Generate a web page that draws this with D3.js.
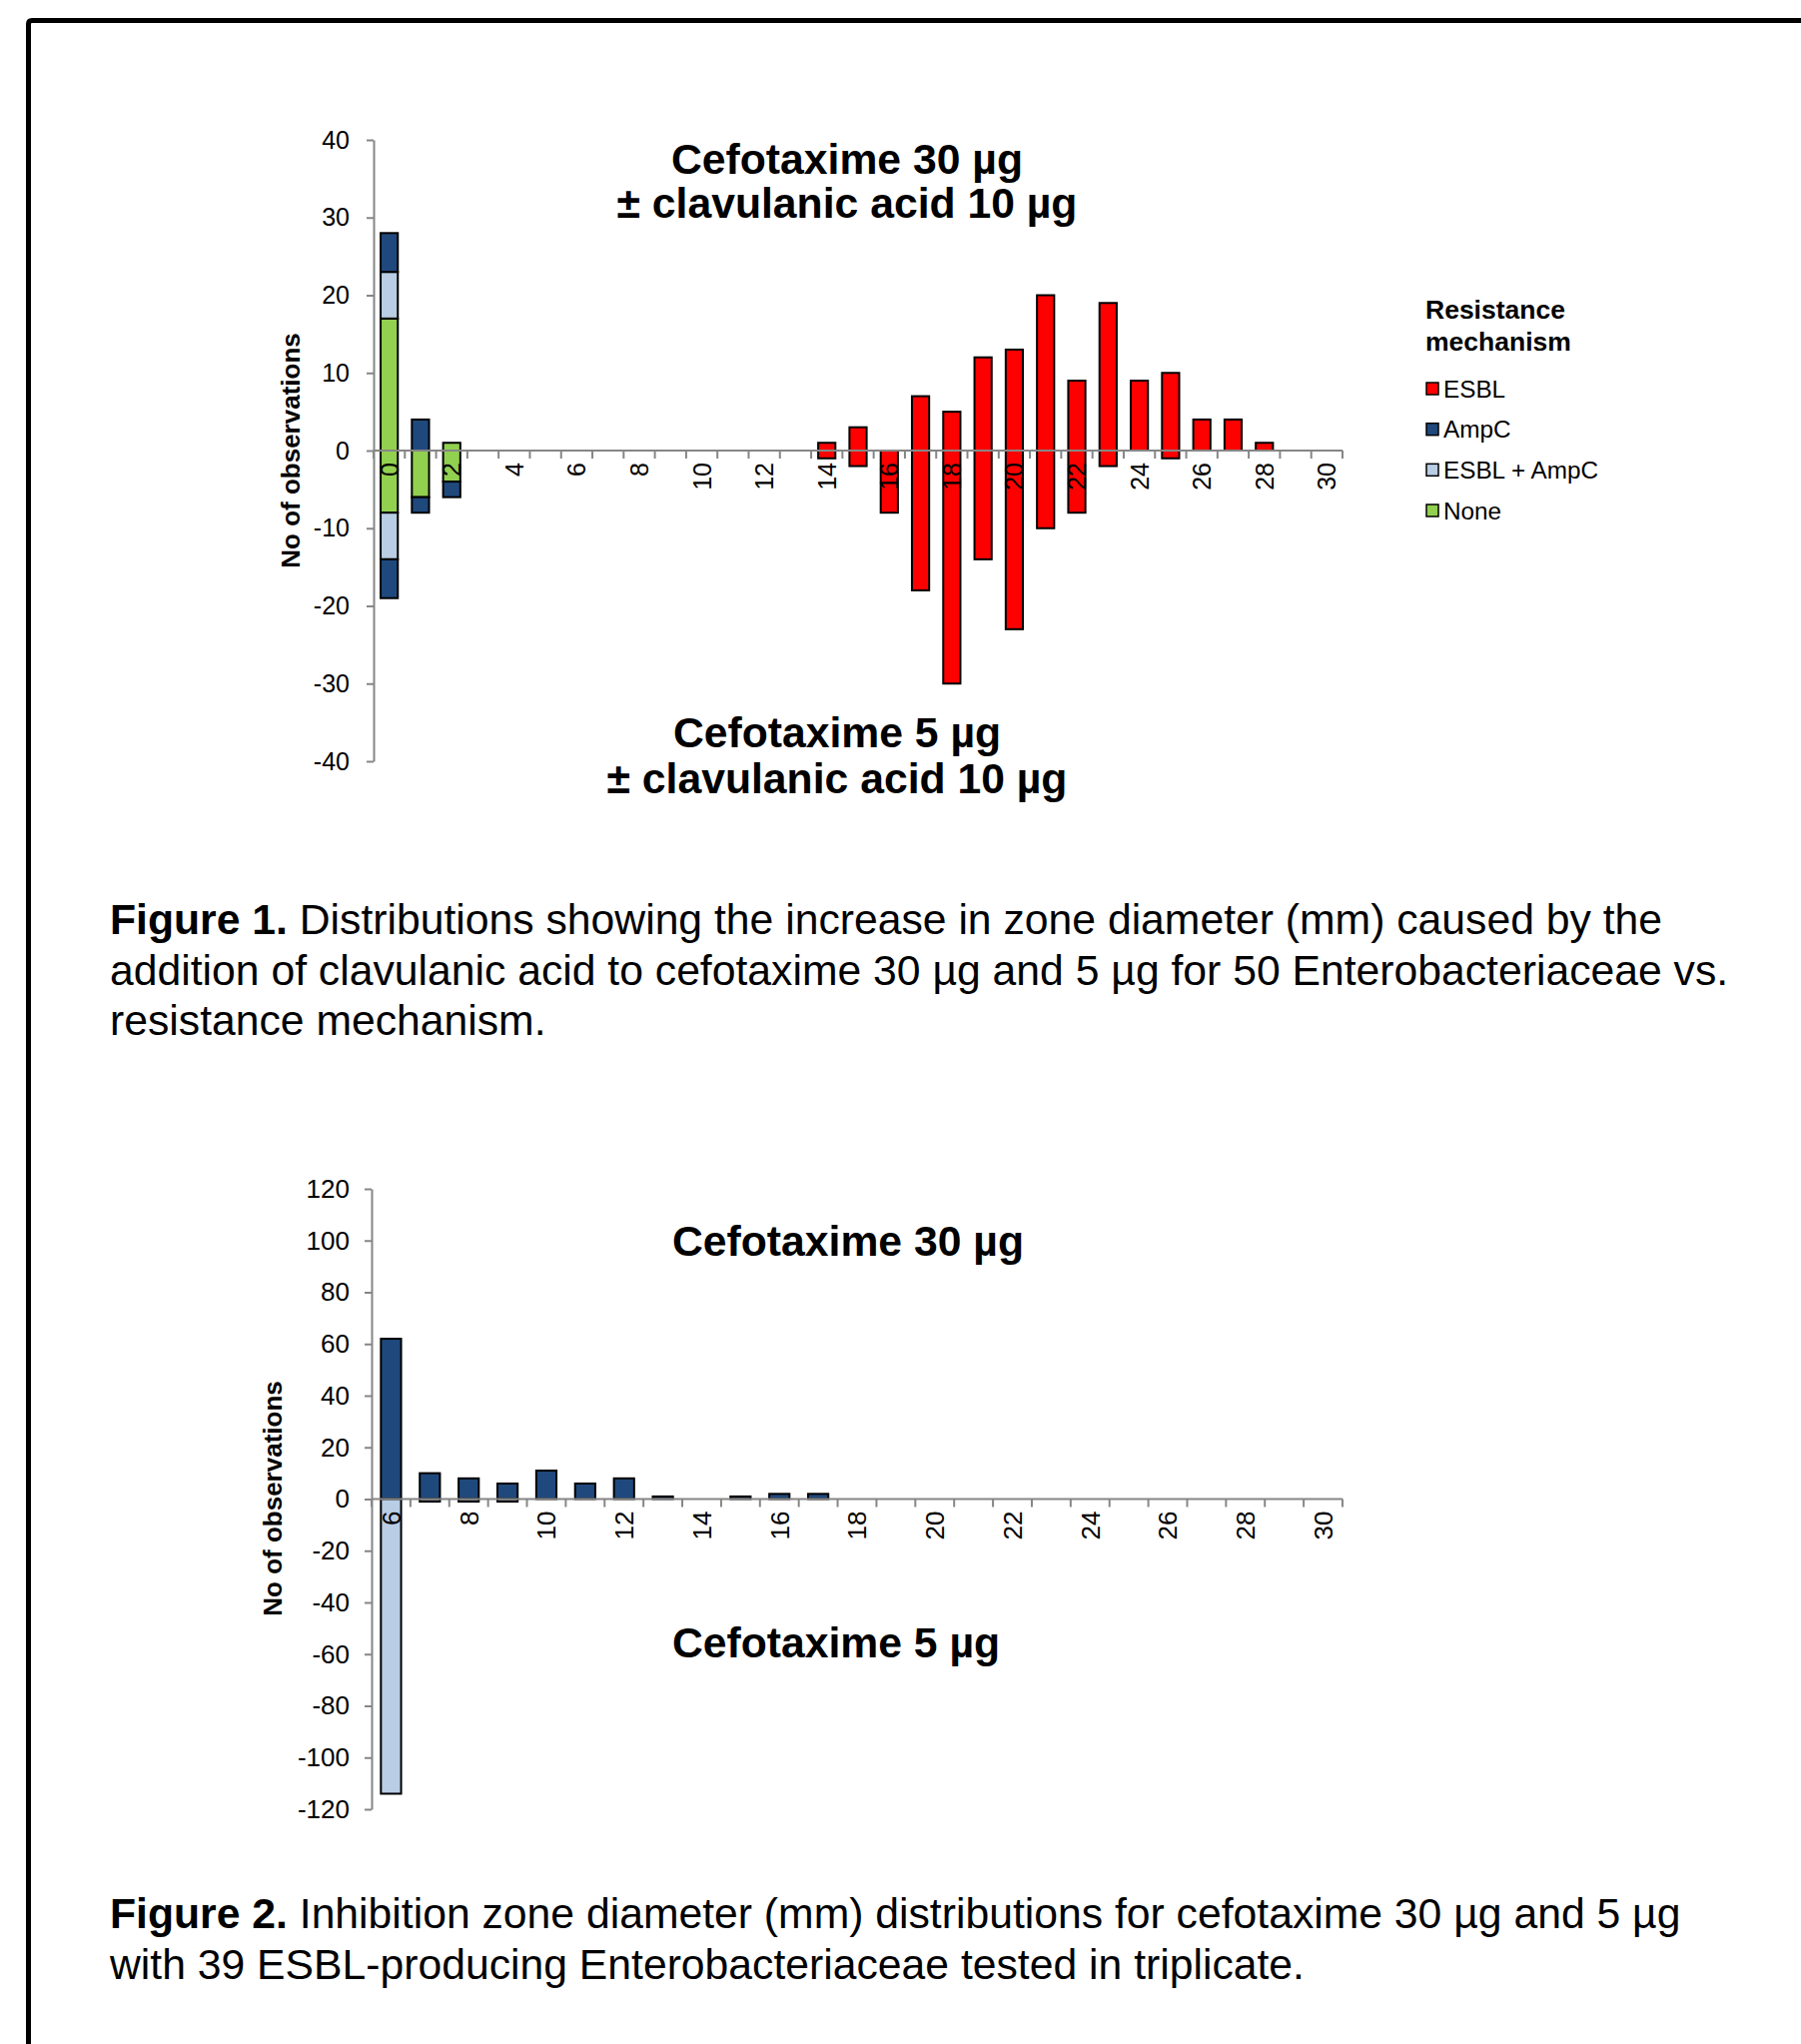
<!DOCTYPE html>
<html>
<head>
<meta charset="utf-8">
<script src="https://cdn.jsdelivr.net/npm/d3@7"></script>
<style>
body{margin:0;background:#fff;}
svg text{font-family:"Liberation Sans",Arial,sans-serif;fill:#000;}
</style>
</head>
<body>
<svg id="page" width="1803" height="2046"></svg>
<script>
// ---- Figure 1 data: increase in zone diameter (mm), counts per mechanism ----
const fig1Cats = [0,1,2,3,4,5,6,7,8,9,10,11,12,13,14,15,16,17,18,19,20,21,22,23,24,25,26,27,28,29,30];
const fig1TickLabels = [0,2,4,6,8,10,12,14,16,18,20,22,24,26,28,30];
const fig1YTicks = [-40,-30,-20,-10,0,10,20,30,40];

// cefotaxime 30 ug (drawn above the axis)
const esbl30     = [0,0,0,0,0,0,0,0,0,0,0,0,0,0,1,3,0,7,5,12,13,20,9,19,9,10,4,4,1,0,0];
const ampc30     = [5,4,0,0,0,0,0,0,0,0,0,0,0,0,0,0,0,0,0,0,0,0,0,0,0,0,0,0,0,0,0];
const esblAmpc30 = [6,0,0,0,0,0,0,0,0,0,0,0,0,0,0,0,0,0,0,0,0,0,0,0,0,0,0,0,0,0,0];
const none30     = [17,0,1,0,0,0,0,0,0,0,0,0,0,0,0,0,0,0,0,0,0,0,0,0,0,0,0,0,0,0,0];

// cefotaxime 5 ug (drawn below the axis)
const esbl5      = [0,0,0,0,0,0,0,0,0,0,0,0,0,0,1,2,8,18,30,14,23,10,8,2,0,1,0,0,0,0,0];
const ampc5      = [5,2,2,0,0,0,0,0,0,0,0,0,0,0,0,0,0,0,0,0,0,0,0,0,0,0,0,0,0,0,0];
const esblAmpc5  = [6,0,0,0,0,0,0,0,0,0,0,0,0,0,0,0,0,0,0,0,0,0,0,0,0,0,0,0,0,0,0];
const none5      = [8,6,4,0,0,0,0,0,0,0,0,0,0,0,0,0,0,0,0,0,0,0,0,0,0,0,0,0,0,0,0];

const mechanisms = ["ESBL","AmpC","ESBL + AmpC","None"];
const mechColors = ["#ff0000","#1f497d","#b9cde5","#92d050"];

// ---- Figure 2 data: inhibition zone diameter (mm) ----
const fig2Cats = [6,7,8,9,10,11,12,13,14,15,16,17,18,19,20,21,22,23,24,25,26,27,28,29,30];
const fig2TickLabels = [6,8,10,12,14,16,18,20,22,24,26,28,30];
const fig2YTicks = [-120,-100,-80,-60,-40,-20,0,20,40,60,80,100,120];
const ctx30 = [62,10,8,6,11,6,8,1,0,1,2,2,0,0,0,0,0,0,0,0,0,0,0,0,0];
const ctx5  = [114,1,1,1,0,0,0,0,0,0,0,0,0,0,0,0,0,0,0,0,0,0,0,0,0];

const AXIS_GREY = "#868686";
const TITLE_SIZE = 42.7;
const svg = d3.select("#page");

/**
 * Page frame: thick line along the top and the left edge
 */
function drawFrame(){
    svg.append("path")
        .attr("d","M28.5,2046 V24 Q28.5,20.5 32,20.5 H1803")
        .attr("fill","none")
        .attr("stroke","#000")
        .attr("stroke-width",5);
}

/**
 * Draws the y axis, the zero line with its ticks and the rotated category labels
 */
function drawAxes(g,x,y,yTicks,tickLabels,opts){
    // plain hyphen for negatives, like the original
    let yAxis = d3.axisLeft(y).tickValues(yTicks).tickFormat(d => String(d))
        .tickSize(7).tickSizeOuter(0).tickPadding(opts.yPad);
    let ga = g.append("g").attr("transform",`translate(${x.range()[0]},0)`).call(yAxis);
    ga.select(".domain").attr("stroke",AXIS_GREY).attr("stroke-width",2);
    ga.selectAll(".tick line").attr("stroke",AXIS_GREY).attr("stroke-width",2);
    ga.selectAll(".tick text")
        .style("font-size",opts.fontSize+"px")
        .style("font-family","'Liberation Sans',Arial,sans-serif")
        .attr("fill","#000");

    let y0 = y(0);
    let x0 = x.range()[0], x1 = x.range()[1];
    g.append("line")
        .attr("x1",x0).attr("x2",x1).attr("y1",y0).attr("y2",y0)
        .attr("stroke",AXIS_GREY).attr("stroke-width",2);

    // tick marks sit on the boundaries between categories
    let bounds = x.domain().map(c => x(c)).concat([x1]);
    g.selectAll(".xtick").data(bounds).enter().append("line")
        .attr("class","xtick")
        .attr("x1",d => d).attr("x2",d => d)
        .attr("y1",y0).attr("y2",y0+8)
        .attr("stroke",AXIS_GREY).attr("stroke-width",2);

    g.selectAll(".xlabel").data(tickLabels).enter().append("text")
        .attr("class","xlabel")
        .attr("transform",d => `translate(${x(d)+x.bandwidth()/2},${y0+opts.xLabelGap}) rotate(-90)`)
        .attr("text-anchor","end")
        .attr("dy","0.36em")
        .style("font-size",opts.fontSize+"px")
        .text(d => d);
}

/**
 * Writes a centred bold title made of several lines
 */
function drawTitle(lines,cx,baselines){
    lines.forEach((t,i)=>{
        svg.append("text")
            .attr("x",cx).attr("y",baselines[i])
            .attr("text-anchor","middle")
            .style("font-size",TITLE_SIZE+"px")
            .style("font-weight","bold")
            .text(t);
    });
}

/**
 * Caption with a bold lead ("Figure n.") on the first line
 */
function drawCaption(lead,lines,x,baselines){
    lines.forEach((t,i)=>{
        let txt = svg.append("text").attr("x",x).attr("y",baselines[i]).style("font-size","42.7px");
        if(i==0){
            txt.append("tspan").style("font-weight","bold").text(lead);
        }
        txt.append("tspan").text(t);
    });
}

function drawYTitle(cx,cy){
    svg.append("text")
        .attr("transform",`translate(${cx},${cy}) rotate(-90)`)
        .attr("text-anchor","middle")
        .attr("dy","0.36em")
        .style("font-size","26px")
        .style("font-weight","bold")
        .text("No of observations");
}

/**
 * Figure 1 - stacked bars above and below the axis
 */
function figure1(){
    let g = svg.append("g");
    let x = d3.scaleBand().domain(fig1Cats).range([374,1344]).paddingInner(0).paddingOuter(0);
    let y = d3.scaleLinear().domain([-40,40]).range([762,140]);
    let bw = x.bandwidth()*0.55;
    let off = (x.bandwidth()-bw)/2;

    // stacking order from the axis outwards: None, ESBL + AmpC, AmpC, ESBL
    let keys = ["none","esblAmpc","ampc","esbl"];
    let colorOf = {esbl:mechColors[0],ampc:mechColors[1],esblAmpc:mechColors[2],none:mechColors[3]};
    let rows30 = fig1Cats.map((c,i)=>({cat:c,esbl:esbl30[i],ampc:ampc30[i],esblAmpc:esblAmpc30[i],none:none30[i]}));
    let rows5 = fig1Cats.map((c,i)=>({cat:c,esbl:esbl5[i],ampc:ampc5[i],esblAmpc:esblAmpc5[i],none:none5[i]}));

    let stack = d3.stack().keys(keys);
    let drawStack = (series,sign) => {
        for(let s of series){
            g.selectAll(null).data(s.filter(d => d[1]-d[0] > 0)).enter().append("rect")
                .attr("x",d => x(d.data.cat)+off)
                .attr("width",bw)
                .attr("y",d => sign>0 ? y(d[1]) : y(-d[0]))
                .attr("height",d => Math.abs(y(d[1])-y(d[0])))
                .attr("fill",colorOf[s.key])
                .attr("stroke","#000")
                .attr("stroke-width",2);
        }
    };
    drawStack(stack(rows30),1);
    drawStack(stack(rows5),-1);

    drawAxes(g,x,y,fig1YTicks,fig1TickLabels,{fontSize:25,yPad:17,xLabelGap:12});
    drawYTitle(291,451);

    drawTitle(["Cefotaxime 30 µg","± clavulanic acid 10 µg"],848,[174,218]);
    drawTitle(["Cefotaxime 5 µg","± clavulanic acid 10 µg"],838,[748,794]);

    // legend
    let lg = svg.append("g").attr("transform","translate(1427,0)");
    lg.append("text").attr("y",319).style("font-size","26.5px").style("font-weight","bold").text("Resistance");
    lg.append("text").attr("y",351).style("font-size","26.5px").style("font-weight","bold").text("mechanism");
    let legendY = d3.scalePoint().domain(mechanisms).range([389,511]);
    let item = lg.selectAll(".leg").data(mechanisms).enter().append("g")
        .attr("transform",d => `translate(0,${legendY(d)})`);
    item.append("rect")
        .attr("x",1).attr("y",-6).attr("width",12).attr("height",12)
        .attr("fill",(d,i) => mechColors[i])
        .attr("stroke","#000").attr("stroke-width",1.5);
    item.append("text")
        .attr("x",18).attr("dy","0.36em")
        .style("font-size","24.3px")
        .text(d => d);

    drawCaption("Figure 1.",[
        " Distributions showing the increase in zone diameter (mm) caused by the",
        "addition of clavulanic acid to cefotaxime 30 µg and 5 µg for 50 Enterobacteriaceae vs.",
        "resistance mechanism."
    ],110,[935,986,1036]);
}

/**
 * Figure 2 - cefotaxime 30 ug above, 5 ug below
 */
function figure2(){
    let g = svg.append("g");
    let x = d3.scaleBand().domain(fig2Cats).range([372,1344]).paddingInner(0).paddingOuter(0);
    let y = d3.scaleLinear().domain([-120,120]).range([1811,1190]);
    let bw = x.bandwidth()*0.52;
    let off = (x.bandwidth()-bw)/2;

    let rows = fig2Cats.map((c,i)=>({cat:c,up:ctx30[i],down:ctx5[i]}));
    g.selectAll(".up").data(rows.filter(d => d.up>0)).enter().append("rect")
        .attr("x",d => x(d.cat)+off).attr("width",bw)
        .attr("y",d => y(d.up)).attr("height",d => y(0)-y(d.up))
        .attr("fill","#1f497d").attr("stroke","#000").attr("stroke-width",2);
    g.selectAll(".down").data(rows.filter(d => d.down>0)).enter().append("rect")
        .attr("x",d => x(d.cat)+off).attr("width",bw)
        .attr("y",y(0)).attr("height",d => y(-d.down)-y(0))
        .attr("fill","#b9cde5").attr("stroke","#000").attr("stroke-width",2);

    drawAxes(g,x,y,fig2YTicks,fig2TickLabels,{fontSize:26,yPad:15,xLabelGap:12});
    drawYTitle(273,1500);

    drawTitle(["Cefotaxime 30 µg"],849,[1257]);
    drawTitle(["Cefotaxime 5 µg"],837,[1659]);

    drawCaption("Figure 2.",[
        " Inhibition zone diameter (mm) distributions for cefotaxime 30 µg and 5 µg",
        "with 39 ESBL-producing Enterobacteriaceae tested in triplicate."
    ],110,[1930,1981]);
}

drawFrame();
figure1();
figure2();
</script>
</body>
</html>
